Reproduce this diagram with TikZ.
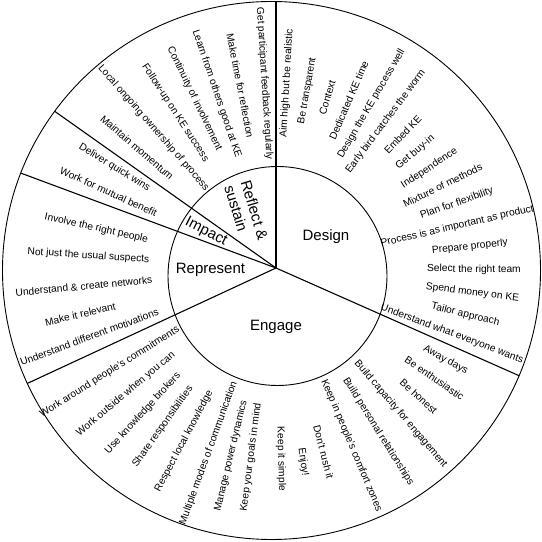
\documentclass[tikz,border=0pt]{standalone}
\usepackage{fontspec}
\setmainfont{Liberation Sans}
\begin{document}
\begin{tikzpicture}[x=1pt,y=1pt,
  item/.style={font=\fontsize{10.2}{12}\selectfont, inner sep=0pt, anchor=center},
  cat/.style={font=\fontsize{15}{17}\selectfont, inner sep=0pt, anchor=center},
  ring/.style={line width=0.9pt, draw=black},
  spoke/.style={line width=1.1pt, draw=black}]
\useasboundingbox (0,0) rectangle (542,542);
\coordinate (C) at (276,274);
\coordinate (O) at (271.5,271.5);
\coordinate (I) at (277.5,266);
\draw[ring] (O) circle[radius=269];
\draw[ring] (I) circle[radius=109.5];
% spoke ends on the outer circle
\coordinate (s1) at (276,540.46);
\coordinate (s2) at (519.1,166.3);
\coordinate (s3) at (27.4,158.6);
\coordinate (s4) at (20.8,368.9);
\coordinate (s5) at (54.7,430.7);
\foreach \k in {1,...,5} \draw[spoke] (C) -- (s\k);
% category labels
\node[cat] (design) at (326,305) {Design};
\node[cat] (engage) at (276,215) {Engage};
\node[cat] (represent) at (210.5,272) {Represent};
\node[cat, rotate=-27] (impact) at (206,310) {Impact};
\node[cat, rotate=-73, align=left] (reflect) at (246.4,329.5) {Reflect \&\\sustain};
% Design items
\foreach \a/\r/\t [count=\i] in {
  86.65/185/Aim high but be realistic,
  79.95/180/Be transparent,
  73.25/178/Context,
  66.55/183/Dedicated KE time,
  59.85/190/Design the KE process well,
  53.15/183/Early bird catches the worm,
  46.45/184/Embed KE,
  39.75/181/Get buy-in,
  33.05/183/Independence,
  26.35/186/Mixture of methods,
  19.65/192/Plan for flexibility,
  12.95/186/Process is as important as product,
  6.25/195/Prepare properly,
  -0.45/198/Select the right team,
  -7.15/198/Spend money on KE,
  -13.85/195/Tailor approach,
  -20.55/188/Understand what everyone wants}
  \node[item, rotate=\a] (d\i) at ([shift={(\a:\r)}]C) {\t};
% Engage items, right half
\foreach \a/\r/\t [count=\i] in {
  -28.5/193/Away days,
  -34.8/193/Be enthusiastic,
  -42/192/Be honest,
  -49.5/192/Build capacity for engagement,
  -58/193/Build personal relationships,
  -67/193/Keep in people's comfort zones,
  -75.5/190/Don't rush it,
  -82/196/Enjoy!,
  -88.5/191/Keep it simple}
  \node[item, rotate=\a] (e\i) at ([shift={(\a:\r)}]C) {\t};
% Engage items, left half
\foreach \a/\r/\t [count=\i] in {
  -97.5/191/Keep your goals in mind,
  -103.5/193/Manage power dynamics,
  -110/197/Multiple modes of communication,
  -118/196/Respect local knowledge,
  -125.5/195/Share responsibilities,
  -132.5/197/Use knowledge brokers,
  -140/196/Work outside when you can,
  -148/196/Work around people's commitments}
  \node[item, rotate=\a+180] (f\i) at ([shift={(\a:\r)}]C) {\t};
% Represent items
\foreach \a/\r/\t [count=\i] in {
  167.6/184/Involve the right people,
  176.3/188/Not just the usual suspects,
  185.4/193/Understand \& create networks,
  193.3/201/Make it relevant,
  200.3/199/Understand different motivations}
  \node[item, rotate=\a-180] (r\i) at ([shift={(\a:\r)}]C) {\t};
% Impact items
\foreach \a/\r/\t [count=\i] in {
  148.2/190/Deliver quick wins,
  155.5/184/Work for mutual benefit}
  \node[item, rotate=\a-180] (m\i) at ([shift={(\a:\r)}]C) {\t};
% Reflect & sustain items
\foreach \a/\r/\t [count=\i] in {
  93.6/185/Get participant feedback regularly,
  101.1/186/Make time for reflection,
  108.8/184/Learn from others good at KE,
  115.7/188/Continuity of involvement,
  123.0/185/Follow-up on KE success,
  131.2/186/Local ongoing ownership of process,
  139.1/184/Maintain momentum}
  \node[item, rotate=\a-180] (t\i) at ([shift={(\a:\r)}]C) {\t};
\end{tikzpicture}
\end{document}
